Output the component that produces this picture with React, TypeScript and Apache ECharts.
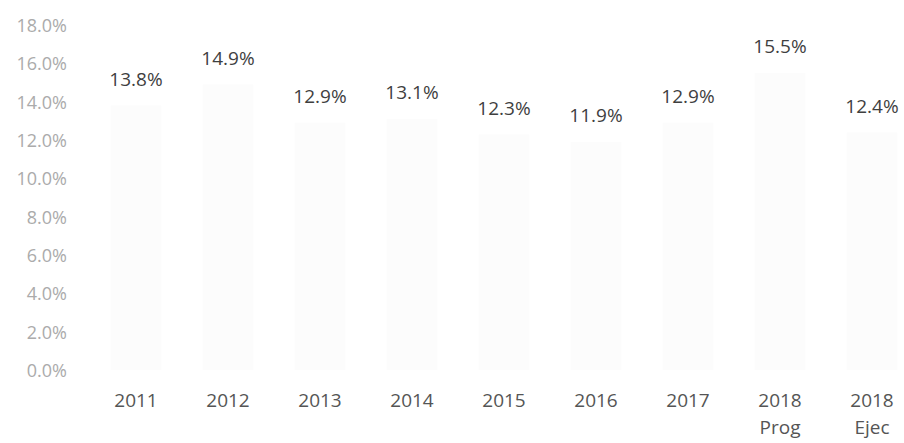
import React, { useEffect, useRef } from "react";
import * as echarts from "echarts";

const categories = ["2011", "2012", "2013", "2014", "2015", "2016", "2017", "2018\nProg", "2018\nEjec"];
const values = [13.8, 14.9, 12.9, 13.1, 12.3, 11.9, 12.9, 15.5, 12.4];
const yMin = 0;
const yMax = 18;
const yInterval = 2;

export default function App() {
  const ref = useRef<HTMLDivElement>(null);
  useEffect(() => {
    if (!ref.current) return;
    const chart = echarts.init(ref.current, undefined, { renderer: "svg" });
    chart.setOption({
      animation: false,
      backgroundColor: "#ffffff",
      grid: { left: 90, right: 12, top: 25, bottom: 73, containLabel: false },
      xAxis: {
        type: "category",
        data: categories,
        axisLine: { show: false },
        axisTick: { show: false },
        axisLabel: {
          color: "#555555",
          fontFamily: "'Open Sans', sans-serif",
          fontSize: 19,
          lineHeight: 27,
          margin: 16,
          interval: 0,
        },
      },
      yAxis: {
        type: "value",
        min: yMin,
        max: yMax,
        interval: yInterval,
        splitLine: { show: false },
        axisLine: { show: false },
        axisTick: { show: false },
        axisLabel: {
          color: "#ababab",
          fontFamily: "'Open Sans', sans-serif",
          fontSize: 18,
          margin: 23,
          formatter: (v: number) => v.toFixed(1) + "%",
        },
      },
      series: [
        {
          type: "bar",
          data: values,
          barWidth: "55%",
          itemStyle: { color: "#fcfcfc" },
          label: {
            show: true,
            position: "top",
            distance: 17,
            color: "#3f3f3f",
            fontFamily: "'Open Sans', sans-serif",
            fontSize: 19,
            formatter: (p: any) => p.value.toFixed(1) + "%",
          },
        },
      ],
    });
    return () => chart.dispose();
  }, []);
  return (
    <div
      ref={ref}
      style={{ position: "fixed", left: 0, top: 0, width: 930, height: 443 }}
    />
  );
}
